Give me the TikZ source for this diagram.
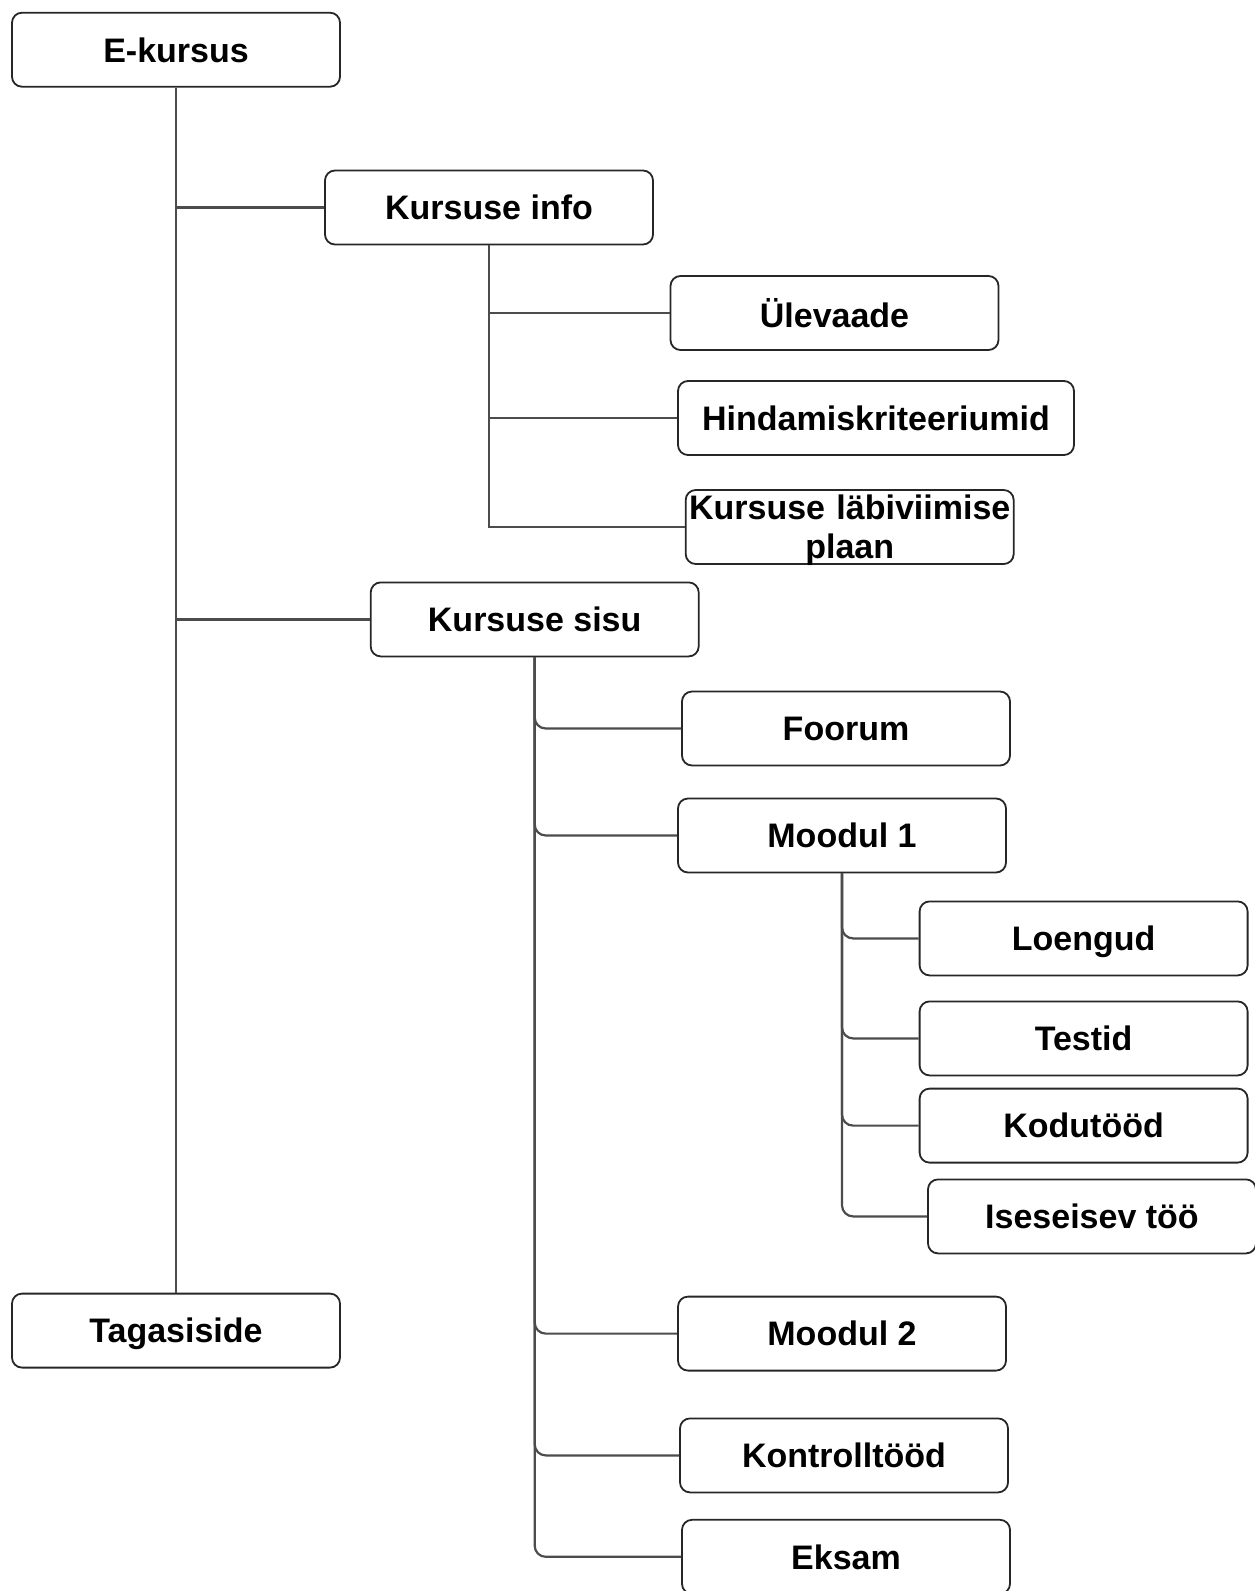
\documentclass[tikz,border=0pt]{standalone}
\usepackage{fontspec}
\setmainfont{Liberation Sans}
\usetikzlibrary{calc}

\tikzset{
	basebox/.style={draw=black!85, line width=0.9pt, rounded corners=5pt, minimum width=164pt, minimum height=37pt, inner sep=0pt, align=center, font=\bfseries\fontsize{17}{19.3}\selectfont},
	itembox/.style={basebox, text depth=0pt},
	link/.style={draw=black!70, line width=1.1pt},
	roundlink/.style={link, rounded corners=5.5pt},
}

\begin{document}
\begin{tikzpicture}[x=0.5pt,y=-0.5pt]
	\useasboundingbox (0,0) rectangle (1254,1591);

	\node [itembox](EK) at (176,49.7) {E-kursus};
	\node [itembox](INFO) at (489,207.5) {Kursuse info};
	\node [itembox](ULE) at (834.5,313) {Ülevaade};
	\node [itembox,minimum width=198pt](HIND) at (876,418) {Hindamiskriteeriumid};
	\node [basebox,text width=164pt,text depth=19.5pt](PLAAN) at (849.7,527) {Kursuse läbiviimise\\plaan};
	\node [itembox](SISU) at (534.7,619.4) {Kursuse sisu};
	\node [itembox](FOOR) at (846,728.5) {Foorum};
	\node [itembox](MOOD1) at (842,835.5) {Moodul 1};
	\node [itembox](LOEN) at (1083.6,938.4) {Loengud};
	\node [itembox](TEST) at (1083.6,1038.4) {Testid};
	\node [itembox](KODU) at (1083.6,1125.6) {Kodutööd};
	\node [itembox](ISE) at (1092,1216.4) {Iseseisev töö};
	\node [itembox](TAG) at (176,1330.6) {Tagasiside};
	\node [itembox](MOOD2) at (842,1333.6) {Moodul 2};
	\node [itembox](KONT) at (844,1455.4) {Kontrolltööd};
	\node [itembox](EKS) at (846,1556.8) {Eksam};

	\draw [link] (EK.south) -- (TAG.north);
	\draw [link] (EK.south) |- (INFO.west);
	\draw [link] (EK.south) |- (SISU.west);

	\draw [link] (INFO.south) |- (ULE.west);
	\draw [link] (INFO.south) |- (HIND.west);
	\draw [link] (INFO.south) |- (PLAAN.west);

	\draw [roundlink] (SISU.south) |- (FOOR.west);
	\draw [roundlink] (SISU.south) |- (MOOD1.west);
	\draw [roundlink] (SISU.south) |- (MOOD2.west);
	\draw [roundlink] (SISU.south) |- (KONT.west);
	\draw [roundlink] (SISU.south) |- (EKS.west);

	\draw [roundlink] (MOOD1.south) |- (LOEN.west);
	\draw [roundlink] (MOOD1.south) |- (TEST.west);
	\draw [roundlink] (MOOD1.south) |- (KODU.west);
	\draw [roundlink] (MOOD1.south) |- (ISE.west);
\end{tikzpicture}
\end{document}
